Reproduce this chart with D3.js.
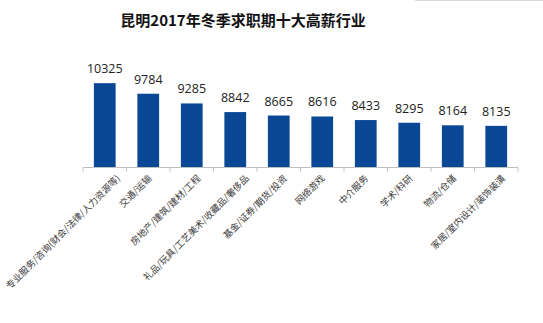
<!DOCTYPE html>
<html><head><meta charset="utf-8">
<script src="https://cdn.jsdelivr.net/npm/d3@7"></script>
<style>body{margin:0;background:#fff}svg{display:block}</style>
</head><body>
<script>
const title = "昆明2017年冬季求职期十大高薪行业";
const categories = ["专业服务/咨询(财会/法律/人力资源等)","交通/运输","房地产/建筑/建材/工程","礼品/玩具/工艺美术/收藏品/奢侈品","基金/证券/期货/投资","网络游戏","中介服务","学术/科研","物流/仓储","家居/室内设计/装饰装潢"];
const values = [10325,9784,9285,8842,8665,8616,8433,8295,8164,8135];
const yDomain = [6000,12000];

const W=543,H=323;
const svg=d3.select("body").append("svg").attr("width",W).attr("height",H);
svg.append("line").attr("x1",415).attr("x2",543).attr("y1",0.5).attr("y2",0.5).attr("stroke","#d9d9d9");
svg.append("text").attr("x",243).attr("y",26).attr("text-anchor","middle")
  .attr("font-family","'Noto Sans CJK SC'").attr("font-weight","bold").attr("font-size",15)
  .attr("fill","#111").text(title);

const x=d3.scaleBand().domain(categories).range([83,518]).paddingInner(0.5).paddingOuter(0.25);
const y=d3.scaleLinear().domain(yDomain).range([167.5,50.5]);

svg.selectAll("rect.bar").data(values).join("rect").attr("class","bar")
  .attr("x",(d,i)=>x(categories[i])).attr("width",x.bandwidth())
  .attr("y",d=>y(d)).attr("height",d=>y.range()[0]-y(d)).attr("fill","#0a4795");

svg.selectAll("text.val").data(values).join("text").attr("class","val")
  .attr("x",(d,i)=>x(categories[i])+x.bandwidth()/2).attr("y",d=>y(d)-10)
  .attr("text-anchor","middle").attr("font-family","'Open Sans'").attr("font-size",12.5).attr("fill","#222")
  .text(d=>d);

const ax=svg.append("g").attr("transform","translate(0,167.5)");
ax.append("line").attr("x1",83).attr("x2",518).attr("stroke","#bfbfbf");
const ticks=d3.range(categories.length+1).map(i=>83+i*(435/categories.length));
ax.selectAll("line.t").data(ticks).join("line").attr("class","t")
  .attr("x1",d=>d).attr("x2",d=>d).attr("y1",0).attr("y2",4).attr("stroke","#bfbfbf");

svg.selectAll("text.cat").data(categories).join("text").attr("class","cat")
  .attr("text-anchor","end").attr("font-family","'Noto Sans CJK SC'").attr("font-size",9.3).attr("fill","#3a3a3a")
  .attr("transform",d=>`translate(${x(d)+x.bandwidth()/2+0.8*d.length},179) rotate(-45)`)
  .text(d=>d);
</script>
</body></html>
